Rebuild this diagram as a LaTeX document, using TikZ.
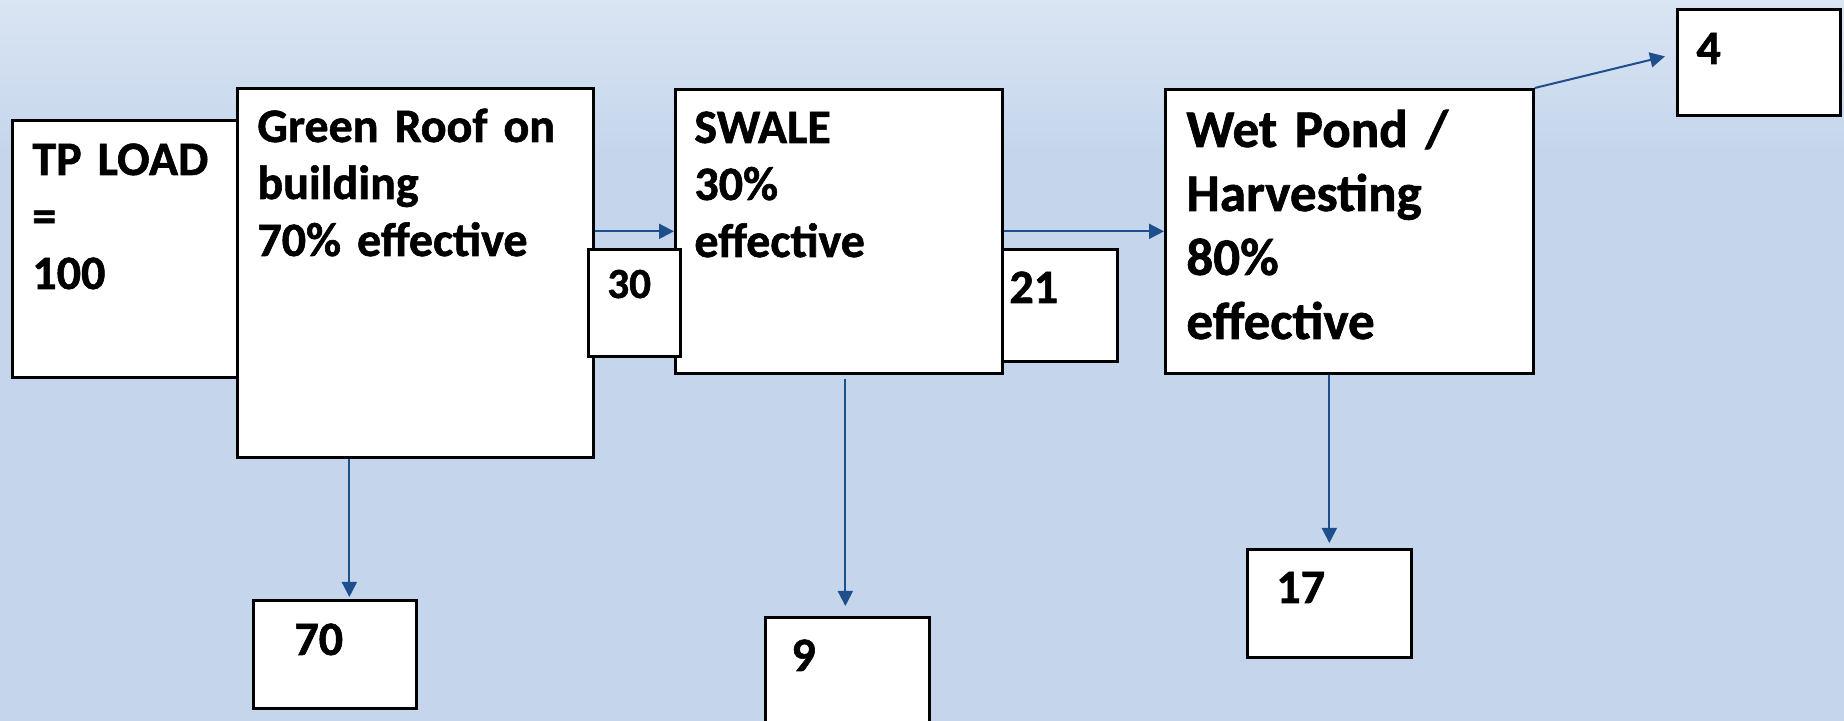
\documentclass[tikz,border=0pt]{standalone}
\usepackage{fontspec}
\setmainfont{Carlito}[WordSpace=0.75, BoldFeatures={FakeBold=1.2}]
\usetikzlibrary{arrows.meta,calc}

\definecolor{bgtop}{RGB}{218,229,243}
\definecolor{bgbot}{RGB}{197,214,236}
\definecolor{flowblue}{RGB}{31,78,140}

\tikzset{
	blk/.style={draw=black, line width=1.35pt, fill=white, rectangle, inner sep=0pt, anchor=north west},
	lbl/.style={anchor=base west, inner sep=0pt, text width=250pt, font=\bfseries\fontsize{24}{28.5}\selectfont},
	lblbig/.style={lbl, font=\bfseries\fontsize{26.5}{32}\selectfont},
	lblsmall/.style={lbl, font=\bfseries\fontsize{21.5}{24}\selectfont},
	flow/.style={draw=flowblue, line width=1pt, -{Triangle[length=7.5pt,width=7.5pt,fill=flowblue]}}
}

\begin{document}
\begin{tikzpicture}[x=0.5pt,y=0.5pt,yscale=-1,xscale=1]
		\clip (0,0) rectangle (1844,721);
		
		%Background
		\fill [bgbot] (0,0) rectangle (1844,721);
		\shade [top color=bgtop, bottom color=bgbot] (0,0) rectangle (1844,150);
		
		%Shape: Rectangle
		\node [blk, minimum width=114.5pt, minimum height=128.5pt] (tp) at (11,119) {};
		\node [blk, minimum width=178pt, minimum height=184.5pt] (roof) at (236,87) {};
		\node [blk, minimum width=163.5pt, minimum height=142pt] (swale) at (674,88) {};
		\node [blk, minimum width=184pt, minimum height=142pt] (wet) at (1164,88) {};
		\node [blk, minimum width=46pt, minimum height=53.5pt] (b30) at (587,248) {};
		\node [blk, minimum width=57.5pt, minimum height=56pt] (b21) at (1001,248) {};
		\node [blk, minimum width=81.5pt, minimum height=53pt] (b4) at (1676,8) {};
		\node [blk, minimum width=81.5pt, minimum height=54pt] (b70) at (252,599) {};
		\node [blk, minimum width=82pt, minimum height=62pt] (b9) at (764,616) {};
		\node [blk, minimum width=82pt, minimum height=54pt] (b17) at (1246,548) {};
		
		% Text Node
		\node [lbl] (tptxt) at ([shift={(21,56)}]tp.north west) {TP LOAD\\=\\100};
		% Text Node
		\node [lbl] (rooftxt) at ([shift={(21,55)}]roof.north west) {Green Roof on\\building\\70\% effective};
		% Text Node
		\node [lbl] (swaletxt) at ([shift={(20,55)}]swale.north west) {SWALE\\30\%\\effective};
		% Text Node
		\node [lblbig] (wettxt) at ([shift={(22,59)}]wet.north west) {Wet Pond /\\Harvesting\\80\%\\effective};
		% Text Node
		\node [lblsmall] (t30) at ([shift={(20,50)}]b30.north west) {30};
		% Text Node
		\node [lbl] (t21) at ([shift={(8,55)}]b21.north west) {21};
		% Text Node
		\node [lbl] (t4) at ([shift={(20,56)}]b4.north west) {4};
		% Text Node
		\node [lbl] (t70) at ([shift={(42,56)}]b70.north west) {70};
		% Text Node
		\node [lbl] (t9) at ([shift={(27,55)}]b9.north west) {9};
		% Text Node
		\node [lbl] (t17) at ([shift={(30,55)}]b17.north west) {17};
		
		%Straight Lines
		\coordinate (in70) at ([shift={(14.5,-2)}]b70.north);
		\coordinate (in9) at ([shift={(-2,-10)}]b9.north);
		\coordinate (out9) at ([shift={(0,4)}]swale.south -| in9);
		\coordinate (in4) at ([shift={(-11,-6)}]b4.west);
		\draw [flow] (roof.east |- swale.west) -- (swale.west);
		\draw [flow] (swale.east) -- (wet.west);
		\draw [flow] (roof.south -| in70) -- (in70);
		\draw [flow] (out9) -- (in9);
		\draw [flow] (wet.south -| b17.north) -- ([shift={(0,-5)}]b17.north);
		\draw [flow] (wet.north east) -- (in4);
		
\end{tikzpicture}
\end{document}
